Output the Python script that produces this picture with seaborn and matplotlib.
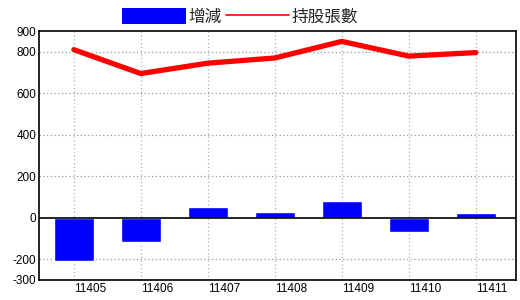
import matplotlib
matplotlib.use("Agg")
import matplotlib.pyplot as plt
import matplotlib.transforms as mtransforms
from matplotlib.patches import Patch
from matplotlib.lines import Line2D
import numpy as np
import pandas as pd
import seaborn as sns

periods = ["11405", "11406", "11407", "11408", "11409", "11410", "11411"]
change = [-207, -115, 53, 26, 83, -68, 22]
holdings = [810, 695, 745, 770, 850, 779, 796]
yticks = [900, 800, 600, 400, 200, 0, -200, -300]
bar_label = "增減"
line_label = "持股張數"

sns.set_theme(style="white")
plt.rcParams["font.family"] = ["Noto Sans CJK TC", "DejaVu Sans"]

df = pd.DataFrame({"period": periods, "change": change, "holdings": holdings,
                   "pos": np.arange(len(periods))})

fig = plt.figure(figsize=(5.2, 3.0), dpi=100)
ax = fig.add_axes([39/520, 20/300, (516-39)/520, (280-31)/300])

sns.barplot(data=df, x="period", y="change", color="#0000ff", saturation=1,
            width=0.6, ax=ax, zorder=3)
sns.lineplot(data=df, x="pos", y="holdings", color="#ff0000", linewidth=3.8,
             ax=ax, zorder=4)

ax.set_xlim(-0.52, 6.6)
ax.set_ylim(-300, 900)
ax.set_yticks(yticks)
ax.set_yticklabels([str(v) for v in yticks], fontsize=8.5, family="Liberation Sans")
ax.set_xticks(np.arange(len(periods)))
ax.set_xticklabels(periods, fontsize=8.5, family="Liberation Sans", ha="left")
offset = mtransforms.ScaledTranslation(0.03, 0, fig.dpi_scale_trans)
for lbl in ax.get_xticklabels():
    lbl.set_transform(lbl.get_transform() + offset)
ax.tick_params(axis="both", length=0, pad=2, colors="black")
ax.set_xlabel("")
ax.set_ylabel("")

for v in [800, 600, 400, 200, -200]:
    ax.axhline(v, color="#999999", linestyle=(0, (1, 2)), linewidth=0.9, zorder=1)
for x in range(len(periods)):
    ax.axvline(x, color="#9ab4c8", linestyle=(0, (1, 2)), linewidth=0.9, zorder=1)
ax.axhline(0, color="black", linewidth=1.2, zorder=5)

for s in ax.spines.values():
    s.set_color("black")
    s.set_linewidth(1.2)
    s.set_visible(True)

handles = [Patch(facecolor="#0000ff", edgecolor="none"),
           Line2D([0], [0], color="#ff0000", linewidth=1.2)]
fig.legend(handles, [bar_label, line_label], loc="upper left",
           bbox_to_anchor=(119/520, 0.985), ncol=2, frameon=False,
           fontsize=12, handlelength=3.8, handleheight=1.1,
           handletextpad=0.15, columnspacing=0.25, borderaxespad=0.0,
           borderpad=0.2)

fig.savefig("out.png", dpi=100)
